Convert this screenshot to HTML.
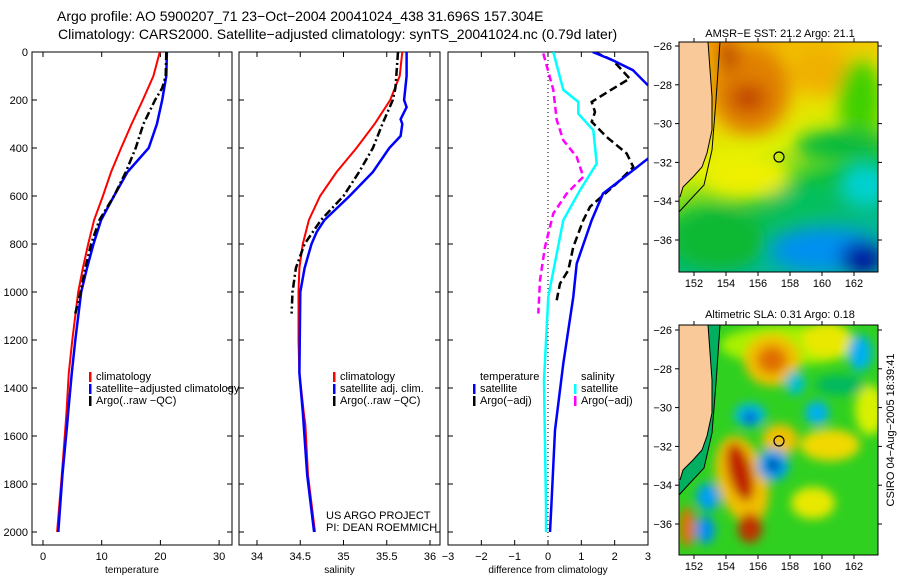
<!DOCTYPE html>
<html><head><meta charset="utf-8"><style>
body{margin:0;background:#fff;}
svg{display:block;font-family:"Liberation Sans",sans-serif;}
text{fill:#000;}
</style></head><body>
<svg id="fig" width="900" height="580" viewBox="0 0 900 580" xmlns="http://www.w3.org/2000/svg">
<defs>
<clipPath id="c1"><rect x="32" y="52" width="200" height="493"/></clipPath>
<clipPath id="c2"><rect x="239" y="52" width="201" height="493"/></clipPath>
<clipPath id="c3"><rect x="448" y="52" width="200" height="493"/></clipPath>
<clipPath id="m1"><rect x="679" y="42" width="199" height="230"/></clipPath>
<clipPath id="m2"><rect x="679" y="325" width="199" height="230"/></clipPath>
<filter id="bl" x="-50%" y="-50%" width="200%" height="200%"><feGaussianBlur stdDeviation="9"/></filter>
<filter id="bs" x="-50%" y="-50%" width="200%" height="200%"><feGaussianBlur stdDeviation="5"/></filter>
<linearGradient id="sstg" x1="0" y1="0" x2="0.3" y2="1">
<stop offset="0" stop-color="#f4a000"/><stop offset="0.35" stop-color="#f0d800"/><stop offset="0.55" stop-color="#d8f000"/><stop offset="0.75" stop-color="#10c040"/><stop offset="1" stop-color="#00b890"/></linearGradient>
</defs>
<text x="57" y="21" font-size="14">Argo profile: AO 5900207_71 23−Oct−2004 20041024_438 31.696S 157.304E</text>
<text x="58" y="39" font-size="14">Climatology: CARS2000. Satellite−adjusted climatology: synTS_20041024.nc (0.79d later)</text>
<g id="g1"></g>
<g id="g2"></g>
<g id="g3"></g>

<g clip-path="url(#m1)">
<rect x="679" y="42" width="199" height="230" fill="url(#sstg)"/>
<g filter="url(#bl)">
<ellipse cx="750" cy="90" rx="40" ry="45" fill="#e08000"/>
<ellipse cx="748" cy="98" rx="18" ry="14" fill="#c04000"/>
<ellipse cx="728" cy="55" rx="8" ry="16" fill="#b01000"/>
<ellipse cx="820" cy="70" rx="30" ry="25" fill="#f0b000"/>
<ellipse cx="860" cy="100" rx="22" ry="40" fill="#40d000"/>
<ellipse cx="840" cy="145" rx="45" ry="14" fill="#00b840"/>
<ellipse cx="745" cy="175" rx="45" ry="25" fill="#eef000"/>
<ellipse cx="865" cy="185" rx="25" ry="22" fill="#00d0d0"/>
<ellipse cx="720" cy="240" rx="45" ry="30" fill="#10b830"/>
<ellipse cx="825" cy="250" rx="55" ry="22" fill="#0090f0"/>
<ellipse cx="862" cy="258" rx="22" ry="16" fill="#0010a0"/>
<ellipse cx="800" cy="200" rx="35" ry="12" fill="#00c060"/>
</g>
<polygon points="679,42 708,42 712,97 712,130 707,153 702,167 693,177 683,187 680,197 679,200" fill="#f9c99a"/>
<polyline points="708,42 712,97 712,130 707,153 702,167 693,177 683,187 680,197" fill="none" stroke="#000" stroke-width="1"/>
<polyline points="720,42 716,100 712,150 704,185 690,200 679,212" fill="none" stroke="#000" stroke-width="1"/>
<circle cx="779" cy="157" r="5" fill="none" stroke="#000" stroke-width="1.2"/>
</g>
<rect x="679" y="42" width="199" height="230" fill="none" stroke="#000"/>
<text x="780" y="37" font-size="11" text-anchor="middle">AMSR−E SST: 21.2 Argo: 21.1</text>

<g clip-path="url(#m2)">
<rect x="679" y="325" width="199" height="230" fill="#30d020"/>
<g filter="url(#bs)">
<ellipse cx="790" cy="345" rx="70" ry="20" fill="#a8f000"/>
<ellipse cx="827" cy="340" rx="25" ry="18" fill="#e8e800"/>
<ellipse cx="772" cy="360" rx="28" ry="26" fill="#f0c000"/>
<ellipse cx="772" cy="360" rx="15" ry="14" fill="#e07000"/>
<ellipse cx="780" cy="440" rx="18" ry="16" fill="#f0c000"/>
<ellipse cx="830" cy="445" rx="30" ry="16" fill="#f0d800"/>
<ellipse cx="813" cy="503" rx="22" ry="16" fill="#e8e800"/>
<ellipse cx="870" cy="410" rx="15" ry="25" fill="#d8f000"/>
<ellipse cx="742" cy="480" rx="25" ry="45" fill="#f0c000" transform="rotate(-15 742 480)"/>
<ellipse cx="740" cy="472" rx="12" ry="30" fill="#c02000" transform="rotate(-15 740 472)"/>
<ellipse cx="750" cy="528" rx="12" ry="15" fill="#c03000"/>
<ellipse cx="687" cy="527" rx="8" ry="20" fill="#e07000"/>
<ellipse cx="750" cy="415" rx="16" ry="12" fill="#00b8e0"/>
<ellipse cx="750" cy="418" rx="6" ry="6" fill="#0030d0"/>
<ellipse cx="773" cy="465" rx="16" ry="16" fill="#00a0f0"/>
<ellipse cx="773" cy="465" rx="6" ry="6" fill="#000090"/>
<ellipse cx="860" cy="353" rx="12" ry="18" fill="#00b0f0"/>
<ellipse cx="817" cy="413" rx="12" ry="12" fill="#00b0f0"/>
<ellipse cx="795" cy="383" rx="10" ry="12" fill="#00c0d0"/>
<ellipse cx="708" cy="497" rx="12" ry="14" fill="#00a0f0"/>
<ellipse cx="705" cy="530" rx="10" ry="14" fill="#0090f0"/>
<ellipse cx="840" cy="385" rx="25" ry="10" fill="#00b860"/>
</g>
<polygon points="679,325 708,325 712,380 712,413 707,436 702,450 693,460 683,470 680,480 679,483" fill="#f9c99a"/>
<polygon points="708,325 720,325 716,383 712,433 704,468 690,483 679,495 679,483 680,480 683,470 693,460 702,450 707,436 712,413 712,380" fill="#00b060"/>
<polyline points="708,325 712,380 712,413 707,436 702,450 693,460 683,470 680,480" fill="none" stroke="#000" stroke-width="1"/>
<polyline points="720,325 716,383 712,433 704,468 690,483 679,495" fill="none" stroke="#000" stroke-width="1"/>
<circle cx="779" cy="441" r="5" fill="none" stroke="#000" stroke-width="1.2"/>
</g>
<rect x="679" y="325" width="199" height="230" fill="none" stroke="#000"/>
<text x="780" y="318" font-size="11" text-anchor="middle">Altimetric SLA: 0.31 Argo: 0.18</text>
<g id="mapticks"></g>
<text transform="translate(894 430) rotate(-90)" font-size="11" text-anchor="middle">CSIRO 04−Aug−2005 18:39:41</text>

<text x="326" y="519" font-size="11">US ARGO PROJECT</text>
<text x="326" y="531" font-size="11">PI: DEAN ROEMMICH</text>
</svg>
<script>
// ---- data (depth in m) ----
const depthClim = [0,100,200,300,400,500,600,700,800,900,1000,1200,1337,1500,1554,1763,2000];
const tempClim  = [19.9,18.8,17,15.1,13.3,11.6,10.2,8.7,7.7,6.8,6.0,5.0,4.4,4.0,3.85,3.2,2.4];
const tempSat   = [21.1,21,20.3,19.4,18,14.4,12.1,9.9,8.6,7.5,6.5,5.5,4.9,4.3,4.1,3.3,2.6];
const salClim   = [35.68,35.65,35.54,35.36,35.15,34.92,34.73,34.6,34.53,34.49,34.48,34.48,34.49,34.54,34.56,34.59,34.67];
const depthSalSat = [0,100,200,230,280,300,350,400,500,600,700,750,800,900,1000,1337,1500,1763,2000];
const salSat      = [35.73,35.73,35.7,35.73,35.66,35.68,35.66,35.53,35.34,35.07,34.78,34.69,34.63,34.55,34.5,34.49,34.53,34.58,34.66];
const depthArgo = [0,100,150,200,300,400,500,600,700,800,900,1000,1090];
const tempArgo  = [21,20.9,20.3,19.1,17.1,15.8,14.1,12.1,9.6,8.2,7.2,6.4,5.5];
const salArgo   = [35.63,35.61,35.6,35.57,35.45,35.34,35.18,35.0,34.74,34.55,34.45,34.41,34.4];
// difference panel
const depthDT = [0,35,76,139,200,300,400,444,520,590,701,882,1020,1298,1576,1896,2000];
const diffTSat = [1.34,1.95,2.55,3.0,3.5,3.8,3.3,3.0,2.3,1.65,1.31,0.86,0.76,0.46,0.21,0.1,0.06];
const depthDS = [0,158,208,257,326,465,576,701,1020,1368,1896,2000];
const diffSSat = [0.16,0.46,0.91,0.91,1.36,1.46,0.96,0.46,0.01,-0.12,-0.06,-0.06];
const depthDA = [0,35,111,153,208,250,291,354,423,479,548,645,701,812,909,965,1034];
const diffTArgo = [1.4,1.95,2.45,1.95,1.31,1.41,1.31,1.76,2.36,2.56,2.06,1.26,1.06,0.76,0.61,0.36,0.26];
const depthDM = [6,158,283,368,437,520,590,673,812,951,1090];
const diffSArgo = [-0.14,0.16,0.26,0.46,0.86,1.06,0.56,0.16,-0.09,-0.24,-0.29];
const depthTicks = [0,200,400,600,800,1000,1200,1400,1600,1800,2000];
const tempTicks = [0,10,20,30];
const salTicks = [34,34.5,35,35.5,36];
const diffTicks = [-3,-2,-1,0,1,2,3];
const lonTicks = [152,154,156,158,160,162];
const latTicks = [-26,-28,-30,-32,-34,-36];

const NS='http://www.w3.org/2000/svg';
function mk(parent,tag,attrs){const e=document.createElementNS(NS,tag);for(const k in attrs)e.setAttribute(k,attrs[k]);parent.appendChild(e);return e;}
const yD = d => 52 + d*0.24;
const xT = v => 43 + v*5.87;
const xS = v => 257 + (v-34)*86.5;
const xF = v => 548 + v*33.33;

function frame(g,x0,x1,xs,ticks,labels,title,left){
  const r=mk(g,'rect',{x:x0,y:52,width:x1-x0,height:493,fill:'none',stroke:'#000'});
  
  
  depthTicks.forEach(d=>{
    mk(g,'line',{x1:x0,x2:x0+5,y1:yD(d),y2:yD(d),stroke:'#000'});
    mk(g,'line',{x1:x1-5,x2:x1,y1:yD(d),y2:yD(d),stroke:'#000'});
    if(left){const t=mk(g,'text',{x:x0-4,y:yD(d)+4,'font-size':11,'text-anchor':'end'});t.textContent=d;
      
      }
  });
  ticks.forEach((v,i)=>{
    mk(g,'line',{x1:xs(v),x2:xs(v),y1:52,y2:57,stroke:'#000'});
    mk(g,'line',{x1:xs(v),x2:xs(v),y1:540,y2:545,stroke:'#000'});
    const t=mk(g,'text',{x:xs(v),y:560,'font-size':11,'text-anchor':'middle'});t.textContent=labels[i];
    
    
  });
  const tt=mk(g,'text',{x:(x0+x1)/2,y:573,'font-size':10,'text-anchor':'middle'});tt.textContent=title;
  
  
}
function line(g,xs,vals,deps,color,w,dash,name,clip){
  const p=vals.map((v,i)=>xs(v).toFixed(1)+','+yD(deps[i]).toFixed(1)).join(' ');
  const a={points:p,fill:'none',stroke:color,'stroke-width':w,'clip-path':clip};
  if(dash)a['stroke-dasharray']=dash;
  const e=mk(g,'polyline',a);
  
  
}
function legend(g,x,y,items){
  items.forEach((it,i)=>{
    if(it[0]){const m=mk(g,'rect',{x:x,y:y+i*12-8,width:2.5,height:10,fill:it[0]});
      
      }
    const t=mk(g,'text',{x:x+7,y:y+i*12,'font-size':11});t.textContent=it[1];
    
    
  });
}
const g1=document.getElementById('g1'),g2=document.getElementById('g2'),g3=document.getElementById('g3');
frame(g1,32,232,xT,tempTicks,tempTicks,'temperature',true);
line(g1,xT,tempClim,depthClim,'#f00',2,null,'temp-climatology-line','url(#c1)');
line(g1,xT,tempSat,depthClim,'#00f',2.5,null,'temp-satellite-line','url(#c1)');
line(g1,xT,tempArgo,depthArgo,'#000',2.5,'8,3,2,3','temp-argo-line','url(#c1)');
legend(g1,89,380,[['#f00','climatology'],['#00f','satellite−adjusted climatology'],['#000','Argo(..raw −QC)']]);

frame(g2,239,440,xS,salTicks,['34','34.5','35','35.5','36'],'salinity',false);
line(g2,xS,salClim,depthClim,'#f00',2,null,'sal-climatology-line','url(#c2)');
line(g2,xS,salSat,depthSalSat,'#00f',2.5,null,'sal-satellite-line','url(#c2)');
line(g2,xS,salArgo,depthArgo,'#000',2.5,'8,3,2,3','sal-argo-line','url(#c2)');
legend(g2,333,380,[['#f00','climatology'],['#00f','satellite adj. clim.'],['#000','Argo(..raw −QC)']]);

frame(g3,448,648,xF,diffTicks,['−3','−2','−1','0','1','2','3'],'difference from climatology',false);
const zl=mk(g3,'line',{x1:xF(0),x2:xF(0),y1:52,y2:545,stroke:'#000','stroke-dasharray':'1,3'});


line(g3,xF,diffSArgo,depthDM,'#f0f',2.5,'7,4','diff-sal-argo-line','url(#c3)');
line(g3,xF,diffSSat,depthDS,'#0ff',2.5,null,'diff-sal-satellite-line','url(#c3)');
line(g3,xF,diffTArgo,depthDA,'#000',2.5,'8,4','diff-temp-argo-line','url(#c3)');
line(g3,xF,diffTSat,depthDT,'#00f',2.5,null,'diff-temp-satellite-line','url(#c3)');
legend(g3,473,380,[[null,'temperature'],['#00f','satellite'],['#000','Argo(−adj)']]);
legend(g3,574,380,[[null,'salinity'],['#0ff','satellite'],['#f0f','Argo(−adj)']]);

// map ticks
const mt=document.getElementById('mapticks');
const xLon=v=>694+(v-152)*16;
[[42,272,46],[325,555,330]].forEach(([top,bot,lat26])=>{
  lonTicks.forEach(v=>{
    mk(mt,'line',{x1:xLon(v),x2:xLon(v),y1:bot,y2:bot+4,stroke:'#000'});
    mk(mt,'line',{x1:xLon(v),x2:xLon(v),y1:top-4,y2:top,stroke:'#000'});
    const t=mk(mt,'text',{x:xLon(v),y:bot+15,'font-size':11,'text-anchor':'middle'});t.textContent=v;
    
    
  });
  latTicks.forEach(v=>{
    const y=lat26+(-26-v)*19.4;
    mk(mt,'line',{x1:675,x2:679,y1:y,y2:y,stroke:'#000'});
    mk(mt,'line',{x1:878,x2:882,y1:y,y2:y,stroke:'#000'});
    const t=mk(mt,'text',{x:672,y:y+4,'font-size':11,'text-anchor':'end'});t.textContent='−'+(-v);
    
    
  });
});
</script>
</body></html>
